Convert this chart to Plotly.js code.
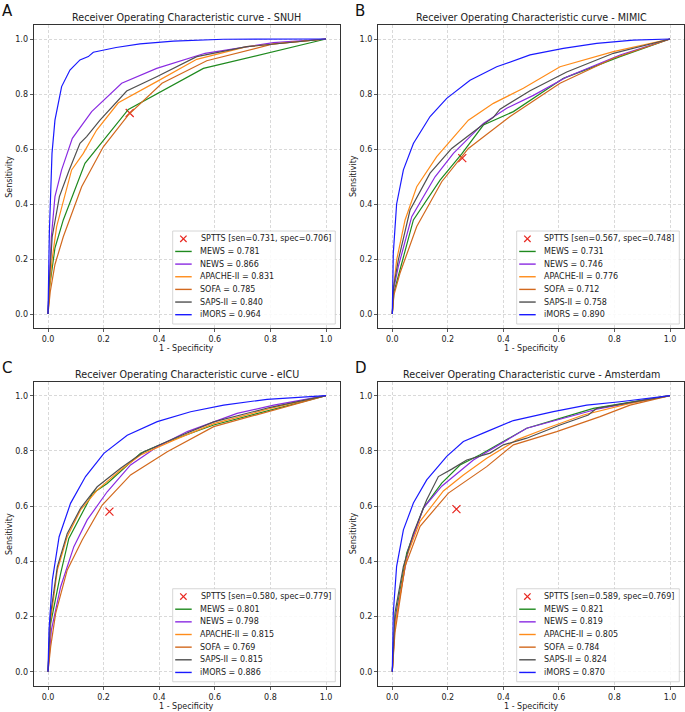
<!DOCTYPE html>
<html>
<head>
<meta charset="utf-8">
<script src="https://cdn.plot.ly/plotly-3.0.1.min.js"></script>
<style>html,body{margin:0;padding:0;background:#fff;}#chart{width:685px;height:712px;}</style>
</head>
<body>
<div id="chart"></div>
<script>
// ---------------- DATA ----------------
const datasets = ["SNUH", "MIMIC", "eICU", "Amsterdam"];
const panelLetters = ["A", "B", "C", "D"];
const models = ["MEWS", "NEWS", "APACHE-II", "SOFA", "SAPS-II", "iMORS"];

const aucSNUH = [0.781, 0.866, 0.831, 0.785, 0.840, 0.964];
const aucMIMIC = [0.731, 0.746, 0.776, 0.712, 0.758, 0.890];
const aucEICU = [0.801, 0.798, 0.815, 0.769, 0.815, 0.886];
const aucAMS = [0.821, 0.819, 0.805, 0.784, 0.824, 0.870];

const spttsSen = [0.731, 0.567, 0.580, 0.589];
const spttsSpec = [0.706, 0.748, 0.779, 0.769];

// SNUH
const snuhMewsX = [0, 0.006, 0.025, 0.055, 0.133, 0.289, 0.559, 1];
const snuhMewsY = [0, 0.10, 0.24, 0.342, 0.548, 0.744, 0.893, 1];
const snuhNewsX = [0, 0.004, 0.012, 0.025, 0.049, 0.0875, 0.157, 0.265, 0.391, 0.565, 0.811, 1];
const snuhNewsY = [0, 0.12, 0.28, 0.427, 0.524, 0.639, 0.736, 0.839, 0.893, 0.948, 0.987, 1];
const snuhApacheX = [0, 0.006, 0.015, 0.031, 0.085, 0.127, 0.175, 0.253, 0.391, 0.535, 0.715, 1];
const snuhApacheY = [0, 0.10, 0.20, 0.318, 0.524, 0.584, 0.669, 0.768, 0.845, 0.926, 0.972, 1];
const snuhSofaX = [0, 0.008, 0.025, 0.055, 0.121, 0.199, 0.289, 0.41, 0.571, 0.679, 0.81, 1];
const snuhSofaY = [0, 0.08, 0.18, 0.281, 0.463, 0.608, 0.724, 0.839, 0.921, 0.948, 0.982, 1];
const snuhSapsX = [0, 0.005, 0.015, 0.041, 0.075, 0.115, 0.139, 0.187, 0.283, 0.391, 0.535, 0.715, 1];
const snuhSapsY = [0, 0.12, 0.28, 0.427, 0.52, 0.621, 0.645, 0.705, 0.811, 0.863, 0.936, 0.972, 1];
const snuhImorsX = [0, 0.002, 0.005, 0.0096, 0.0144, 0.025, 0.049, 0.079, 0.115, 0.145, 0.163, 0.245, 0.331, 0.451, 0.631, 1];
const snuhImorsY = [0, 0.15, 0.30, 0.439, 0.584, 0.705, 0.827, 0.887, 0.924, 0.936, 0.952, 0.969, 0.982, 0.992, 0.999, 1];

// MIMIC
const mimicMewsX = [0, 0.006, 0.0276, 0.076, 0.172, 0.25, 0.328, 0.436, 0.616, 0.82, 1];
const mimicMewsY = [0, 0.08, 0.16, 0.342, 0.487, 0.582, 0.687, 0.736, 0.857, 0.936, 1];
const mimicNewsX = [0, 0.005, 0.0216, 0.07, 0.154, 0.22, 0.328, 0.412, 0.508, 0.628, 0.82, 1];
const mimicNewsY = [0, 0.09, 0.172, 0.354, 0.499, 0.584, 0.693, 0.748, 0.795, 0.862, 0.942, 1];
const mimicApacheX = [0, 0.005, 0.0156, 0.046, 0.088, 0.16, 0.274, 0.364, 0.472, 0.604, 0.796, 1];
const mimicApacheY = [0, 0.10, 0.196, 0.342, 0.463, 0.572, 0.705, 0.766, 0.821, 0.899, 0.954, 1];
const mimicSofaX = [0, 0.006, 0.0276, 0.088, 0.178, 0.274, 0.424, 0.604, 0.796, 1];
const mimicSofaY = [0, 0.07, 0.148, 0.318, 0.481, 0.602, 0.718, 0.839, 0.93, 1];
const mimicSapsX = [0, 0.005, 0.0216, 0.064, 0.136, 0.214, 0.316, 0.364, 0.388, 0.496, 0.628, 0.796, 1];
const mimicSapsY = [0, 0.10, 0.196, 0.378, 0.512, 0.602, 0.681, 0.715, 0.745, 0.812, 0.88, 0.948, 1];
const mimicImorsX = [0, 0.0036, 0.0156, 0.04, 0.076, 0.136, 0.196, 0.28, 0.376, 0.496, 0.616, 0.736, 0.868, 1];
const mimicImorsY = [0, 0.22, 0.40, 0.524, 0.62, 0.718, 0.784, 0.85, 0.899, 0.942, 0.966, 0.984, 0.996, 1];

// eICU
const eicuMewsX = [0, 0.004, 0.0096, 0.0455, 0.075, 0.16, 0.213, 0.333, 0.429, 0.596, 0.812, 1];
const eicuMewsY = [0, 0.09, 0.175, 0.356, 0.483, 0.646, 0.682, 0.791, 0.833, 0.894, 0.95, 1];
const eicuNewsX = [0, 0.005, 0.012, 0.0455, 0.093, 0.141, 0.213, 0.297, 0.393, 0.501, 0.68, 0.812, 1];
const eicuNewsY = [0, 0.07, 0.151, 0.308, 0.453, 0.55, 0.652, 0.749, 0.815, 0.87, 0.936, 0.966, 1];
const eicuApacheX = [0, 0.004, 0.0096, 0.0335, 0.069, 0.117, 0.177, 0.261, 0.333, 0.453, 0.596, 0.8, 1];
const eicuApacheY = [0, 0.10, 0.187, 0.368, 0.489, 0.586, 0.658, 0.731, 0.785, 0.839, 0.899, 0.954, 1];
const eicuSofaX = [0, 0.004, 0.0096, 0.0275, 0.069, 0.123, 0.195, 0.297, 0.429, 0.596, 0.812, 1];
const eicuSofaY = [0, 0.05, 0.091, 0.211, 0.368, 0.477, 0.604, 0.713, 0.797, 0.888, 0.948, 1];
const eicuSapsX = [0, 0.004, 0.0096, 0.0335, 0.069, 0.117, 0.177, 0.261, 0.345, 0.453, 0.596, 0.8, 1];
const eicuSapsY = [0, 0.11, 0.211, 0.38, 0.50, 0.592, 0.67, 0.737, 0.797, 0.845, 0.905, 0.958, 1];
const eicuImorsX = [0, 0.0036, 0.0156, 0.04, 0.081, 0.135, 0.201, 0.285, 0.393, 0.513, 0.632, 0.788, 1];
const eicuImorsY = [0, 0.151, 0.332, 0.489, 0.61, 0.707, 0.791, 0.857, 0.906, 0.942, 0.966, 0.987, 1];

// Amsterdam
const amsMewsX = [0, 0.004, 0.0096, 0.052, 0.112, 0.178, 0.244, 0.316, 0.484, 0.604, 0.724, 1];
const amsMewsY = [0, 0.09, 0.189, 0.43, 0.593, 0.683, 0.749, 0.786, 0.882, 0.918, 0.954, 1];
const amsNewsX = [0, 0.004, 0.0096, 0.058, 0.112, 0.178, 0.292, 0.484, 0.736, 1];
const amsNewsY = [0, 0.08, 0.177, 0.442, 0.593, 0.672, 0.767, 0.882, 0.951, 1];
const amsApacheX = [0, 0.004, 0.0096, 0.052, 0.10, 0.184, 0.256, 0.34, 0.448, 0.556, 0.688, 0.856, 1];
const amsApacheY = [0, 0.08, 0.165, 0.418, 0.545, 0.655, 0.713, 0.773, 0.84, 0.882, 0.93, 0.972, 1];
const amsSofaX = [0, 0.004, 0.0096, 0.046, 0.10, 0.202, 0.34, 0.436, 0.592, 0.748, 0.856, 1];
const amsSofaY = [0, 0.06, 0.141, 0.382, 0.527, 0.647, 0.743, 0.822, 0.87, 0.924, 0.966, 1];
const amsSapsX = [0, 0.004, 0.0096, 0.04, 0.076, 0.124, 0.166, 0.214, 0.268, 0.352, 0.40, 0.484, 0.604, 0.706, 0.736, 1];
const amsSapsY = [0, 0.10, 0.213, 0.382, 0.502, 0.623, 0.707, 0.734, 0.767, 0.792, 0.822, 0.846, 0.894, 0.93, 0.954, 1];
const amsImorsX = [0, 0.0036, 0.0156, 0.04, 0.076, 0.124, 0.196, 0.256, 0.34, 0.436, 0.58, 0.70, 0.82, 1];
const amsImorsY = [0, 0.213, 0.382, 0.514, 0.611, 0.695, 0.78, 0.834, 0.87, 0.91, 0.942, 0.966, 0.978, 1];

const tickVals = [0, 0.2, 0.4, 0.6, 0.8, 1.0];
const tickText = ["0.0", "0.2", "0.4", "0.6", "0.8", "1.0"];

// ---------------- STYLE / LAYOUT ----------------
const colors = ["#1f8a1f", "#8a2be2", "#ff8c1a", "#d2691e", "#505050", "#1a1aff"];
const W = 685, H = 712;
const FONT = "DejaVu Sans, Liberation Sans, sans-serif";
const px = x => x / W;
const py = y => 1 - y / H;

const panels = [
  {l: 34.1, r: 339.9, t: 25.25, b: 327.75},
  {l: 378.4, r: 683.9, t: 25.25, b: 327.75},
  {l: 34.1, r: 339.9, t: 381.9, b: 685.5},
  {l: 378.4, r: 683.9, t: 381.9, b: 685.5}
];
const curveX = [
  [snuhMewsX, snuhNewsX, snuhApacheX, snuhSofaX, snuhSapsX, snuhImorsX],
  [mimicMewsX, mimicNewsX, mimicApacheX, mimicSofaX, mimicSapsX, mimicImorsX],
  [eicuMewsX, eicuNewsX, eicuApacheX, eicuSofaX, eicuSapsX, eicuImorsX],
  [amsMewsX, amsNewsX, amsApacheX, amsSofaX, amsSapsX, amsImorsX]
];
const curveY = [
  [snuhMewsY, snuhNewsY, snuhApacheY, snuhSofaY, snuhSapsY, snuhImorsY],
  [mimicMewsY, mimicNewsY, mimicApacheY, mimicSofaY, mimicSapsY, mimicImorsY],
  [eicuMewsY, eicuNewsY, eicuApacheY, eicuSofaY, eicuSapsY, eicuImorsY],
  [amsMewsY, amsNewsY, amsApacheY, amsSofaY, amsSapsY, amsImorsY]
];
const aucs = [aucSNUH, aucMIMIC, aucEICU, aucAMS];

const traces = [];
const shapes = [];
const annotations = [];
const layout = {
  width: W, height: H,
  margin: {l: 0, r: 0, t: 0, b: 0},
  paper_bgcolor: "#ffffff", plot_bgcolor: "#ffffff",
  showlegend: false,
  font: {family: FONT, size: 8, color: "#222"}
};

panels.forEach((p, i) => {
  const n = i === 0 ? "" : String(i + 1);
  const xa = "x" + n, ya = "y" + n;
  const axCommon = {
    range: [-0.05, 1.05], tickvals: tickVals, ticktext: tickText,
    showgrid: true, gridcolor: "#d0d0d0", gridwidth: 0.8, griddash: "3px,2px",
    zeroline: false, showline: true, mirror: true, linecolor: "#333", linewidth: 1,
    ticks: "outside", ticklen: 3.5, tickwidth: 0.8, tickcolor: "#333",
    tickfont: {family: FONT, size: 8, color: "#222"}, fixedrange: true
  };
  layout["xaxis" + n] = Object.assign({}, axCommon, {domain: [px(p.l), px(p.r)], anchor: ya});
  layout["yaxis" + n] = Object.assign({}, axCommon, {domain: [py(p.b), py(p.t)], anchor: xa});

  // SPTTS point
  traces.push({
    type: "scatter", mode: "markers", xaxis: xa, yaxis: ya,
    x: [1 - spttsSpec[i]], y: [spttsSen[i]],
    marker: {symbol: "x-thin", size: 8, color: "#e8261f", line: {width: 1.2, color: "#e8261f"}},
    hoverinfo: "skip"
  });
  models.forEach((m, k) => {
    traces.push({
      type: "scatter", mode: "lines", xaxis: xa, yaxis: ya,
      x: curveX[i][k], y: curveY[i][k],
      line: {color: colors[k], width: 1.2},
      hoverinfo: "skip"
    });
  });

  // panel title
  annotations.push({
    xref: "paper", yref: "paper", x: px((p.l + p.r) / 2), y: py(p.t - 7.8),
    text: "Receiver Operating Characteristic curve - " + datasets[i],
    showarrow: false, xanchor: "center", yanchor: "middle",
    font: {family: FONT, size: 9.6, color: "#222"}
  });
  // panel letter
  annotations.push({
    xref: "paper", yref: "paper", x: px(i % 2 === 0 ? 0 : 353), y: py(p.t - 25.25),
    text: panelLetters[i], showarrow: false, xanchor: "left", yanchor: "top",
    font: {family: FONT, size: 15, color: "#111"}
  });
  // axis titles
  annotations.push({
    xref: "paper", yref: "paper", x: px((p.l + p.r) / 2), y: py(p.b + 21),
    text: "1 - Specificity", showarrow: false, xanchor: "center", yanchor: "middle",
    font: {family: FONT, size: 8, color: "#222"}
  });
  annotations.push({
    xref: "paper", yref: "paper", x: px(p.l - 24.8), y: py((p.t + p.b) / 2),
    text: "Sensitivity", showarrow: false, xanchor: "center", yanchor: "middle", textangle: -90,
    font: {family: FONT, size: 8, color: "#222"}
  });

  // legend box
  const bw = 162.6, bh = 93;
  const br = p.r - 4.6, bb = p.b - 3.75;
  const bl = br - bw, bt = bb - bh;
  shapes.push({
    type: "rect", xref: "paper", yref: "paper",
    x0: px(bl), x1: px(br), y0: py(bb), y1: py(bt),
    fillcolor: "rgba(255,255,255,0.85)", line: {color: "#cccccc", width: 0.8}, layer: "above"
  });
  const labels = ["SPTTS [sen=" + spttsSen[i].toFixed(3) + ", spec=" + spttsSpec[i].toFixed(3) + "]"]
    .concat(models.map((m, k) => m + " = " + aucs[i][k].toFixed(3)));
  labels.forEach((lab, r) => {
    const cy = bt + 7.8 + r * 12.65;
    if (r === 0) {
      const cx = bl + 10.7, s = 3.2;
      shapes.push({type: "line", xref: "paper", yref: "paper", x0: px(cx - s), x1: px(cx + s), y0: py(cy - s), y1: py(cy + s), line: {color: "#e8261f", width: 1.2}, layer: "above"});
      shapes.push({type: "line", xref: "paper", yref: "paper", x0: px(cx - s), x1: px(cx + s), y0: py(cy + s), y1: py(cy - s), line: {color: "#e8261f", width: 1.2}, layer: "above"});
    } else {
      shapes.push({type: "line", xref: "paper", yref: "paper", x0: px(bl + 2.5), x1: px(bl + 19), y0: py(cy), y1: py(cy), line: {color: colors[r - 1], width: 1.4}, layer: "above"});
    }
    annotations.push({
      xref: "paper", yref: "paper", x: px(bl + 25.8), y: py(cy),
      text: lab, showarrow: false, xanchor: "left", yanchor: "middle",
      font: {family: FONT, size: 8, color: "#222"}
    });
  });
});

layout.shapes = shapes;
layout.annotations = annotations;
Plotly.newPlot("chart", traces, layout, {displayModeBar: false, staticPlot: true});
</script>
</body>
</html>
